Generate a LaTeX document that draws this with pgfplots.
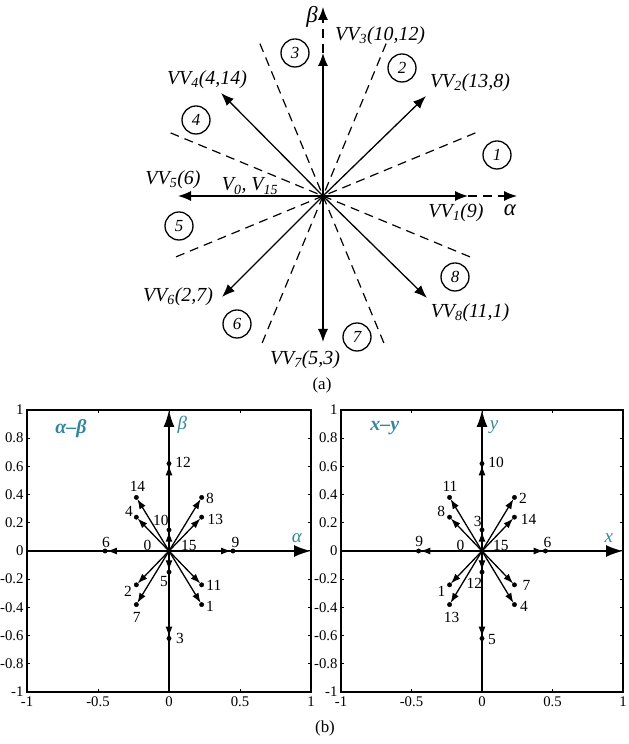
\documentclass[border=0pt]{standalone}
\usepackage{pgfplots}
\pgfplotsset{compat=1.18}
\usetikzlibrary{arrows.meta}
\usepackage{fontspec}
\setmainfont{Liberation Serif}
\definecolor{tealc}{RGB}{50,135,155}
\tikzset{
  vvarrow/.style={black, line width=1.3bp, -{Latex[length=13bp,width=10bp]}},
  dashl/.style={black, line width=1.2bp, dash pattern=on 9bp off 6bp},
  biglab/.style={font=\fontsize{20}{22}\selectfont\itshape, inner sep=0pt},
  circlab/.style={font=\fontsize{17}{18}\selectfont\itshape, inner sep=0pt},
  vec/.style={black, line width=1.3bp, -{Latex[length=10bp,width=7bp]}, shorten >=1.8bp},
  numlab/.style={font=\fontsize{15.5}{16}\selectfont, inner sep=0pt},
}
\pgfplotsset{
  panel/.style={
    anchor=south west, scale only axis, height=282bp,
    xmin=-1, xmax=1, ymin=-1, ymax=1, clip=false,
    xtick={-1,-0.5,0,0.5,1},
    ytick={-1,-0.8,-0.6,-0.4,-0.2,0,0.2,0.4,0.6,0.8,1},
    tick align=inside, major tick length=3bp,
    axis line style={line width=1.6bp},
    every tick/.style={black, line width=1bp},
    tick label style={font=\fontsize{14.8}{15}\selectfont},
    /pgf/number format/assume math mode=true,
    xticklabel style={yshift=-1bp},
  },
}
\newcommand{\drawvectors}{%
  \addplot[black, line width=1.8bp, -{Latex[length=17bp,width=12bp]}] coordinates {(-1,0) (1,0)};
  \addplot[black, line width=1.8bp, -{Latex[length=17bp,width=11bp]}] coordinates {(0,-1) (0,1)};
  \addplot[vec] coordinates {(0,0) (0,0.62)};
  \addplot[vec] coordinates {(0,0) (0,-0.62)};
  \addplot[vec] coordinates {(0,0) (0,0.15)};
  \addplot[vec] coordinates {(0,0) (0,-0.15)};
  \addplot[vec] coordinates {(0,0) (0.45,0)};
  \addplot[vec] coordinates {(0,0) (-0.45,0)};
  \addplot[vec] coordinates {(0,0) (0.23,0.38)};
  \addplot[vec] coordinates {(0,0) (0.23,0.24)};
  \addplot[vec] coordinates {(0,0) (-0.23,0.38)};
  \addplot[vec] coordinates {(0,0) (-0.23,0.24)};
  \addplot[vec] coordinates {(0,0) (-0.23,-0.24)};
  \addplot[vec] coordinates {(0,0) (-0.23,-0.38)};
  \addplot[vec] coordinates {(0,0) (0.23,-0.24)};
  \addplot[vec] coordinates {(0,0) (0.23,-0.38)};
  \addplot[only marks, mark=*, mark size=2.2bp, black] coordinates {
    (0,0.62) (0,-0.62) (0,0.15) (0,-0.15) (0.45,0) (-0.45,0)
    (0.23,0.38) (0.23,0.24) (-0.23,0.38) (-0.23,0.24)
    (-0.23,-0.24) (-0.23,-0.38) (0.23,-0.24) (0.23,-0.38)};
}
\begin{document}
\begin{tikzpicture}
\useasboundingbox (0bp,0bp) rectangle (629bp,744bp);
% ---------------- (a) ----------------
\begin{axis}[at={(0bp,352bp)}, anchor=south west, x=1bp, y=1bp,
  xmin=-323, xmax=306, ymin=-196, ymax=196, hide axis, clip=false]
\addplot[dashl] coordinates {(152.4,63.1) (-152.4,-63.1)};
\addplot[dashl] coordinates {(63.1,152.4) (-63.1,-152.4)};
\addplot[dashl] coordinates {(-63.1,152.4) (63.1,-152.4)};
\addplot[dashl] coordinates {(-152.4,63.1) (152.4,-63.1)};
\addplot[dashl, -{Latex[length=13bp,width=10bp]}] coordinates {(145,0) (194,0)};
\addplot[dashl, -{Latex[length=13bp,width=10bp]}] coordinates {(0,143) (0,189)};
\addplot[vvarrow] coordinates {(0,0) (145,0)};
\addplot[vvarrow] coordinates {(0,0) (103,100)};
\addplot[vvarrow] coordinates {(0,0) (0,143)};
\addplot[vvarrow] coordinates {(0,0) (-102,103)};
\addplot[vvarrow] coordinates {(0,0) (-145,0)};
\addplot[vvarrow] coordinates {(0,0) (-101,-101)};
\addplot[vvarrow] coordinates {(0,0) (0,-146)};
\addplot[vvarrow] coordinates {(0,0) (104,-102)};
\addplot[only marks, mark=o, mark size=14bp, mark options={line width=1.3bp}, black] coordinates {
  (174,41) (79,128) (-28,143) (-127,76) (-144,-30) (-86,-128) (34,-141) (132,-81)};
\node[circlab] at (axis cs:174,41) {1};
\node[circlab] at (axis cs:79,128) {2};
\node[circlab] at (axis cs:-28,143) {3};
\node[circlab] at (axis cs:-127,76) {4};
\node[circlab] at (axis cs:-144,-30) {5};
\node[circlab] at (axis cs:-86,-128) {6};
\node[circlab] at (axis cs:34,-141) {7};
\node[circlab] at (axis cs:132,-81) {8};
\node[biglab] at (axis cs:133,-17) {VV\textsubscript{1}(9)};
\node[biglab] at (axis cs:147,113) {VV\textsubscript{2}(13,8)};
\node[biglab, anchor=west] at (axis cs:12,160) {VV\textsubscript{3}(10,12)};
\node[biglab] at (axis cs:-116,116) {VV\textsubscript{4}(4,14)};
\node[biglab] at (axis cs:-150,16) {VV\textsubscript{5}(6)};
\node[biglab] at (axis cs:-73,10) {V\textsubscript{0}, V\textsubscript{15}};
\node[biglab] at (axis cs:-145,-101) {VV\textsubscript{6}(2,7)};
\node[biglab] at (axis cs:-18,-164) {VV\textsubscript{7}(5,3)};
\node[biglab] at (axis cs:147,-117) {VV\textsubscript{8}(11,1)};
\node[font=\fontsize{23}{24}\selectfont\itshape, inner sep=0pt] at (axis cs:187,-14) {α};
\node[font=\fontsize{23}{24}\selectfont\itshape, inner sep=0pt] at (axis cs:-11,179) {β};
\node[font=\fontsize{17}{18}\selectfont, inner sep=0pt] at (axis cs:-1,-189) {(a)};
\end{axis}
% ---------------- (b) left ----------------
\begin{axis}[panel, at={(27bp,52bp)}, width=284bp]
\drawvectors
\node[font=\fontsize{20}{22}\selectfont\bfseries\itshape, text=tealc, inner sep=0pt] at (axis cs:-0.69,0.87) {α–β};
\node[font=\fontsize{19}{20}\selectfont\itshape, text=tealc, inner sep=0pt] at (axis cs:0.9,0.092) {α};
\node[font=\fontsize{19}{20}\selectfont\itshape, text=tealc, inner sep=0pt] at (axis cs:0.094,0.893) {β};
\node[numlab] at (axis cs:0.1,0.625) {12};
\node[numlab] at (axis cs:-0.222,0.455) {14};
\node[numlab] at (axis cs:-0.281,0.282) {4};
\node[numlab] at (axis cs:-0.058,0.218) {10};
\node[numlab] at (axis cs:0.288,0.372) {8};
\node[numlab] at (axis cs:0.327,0.225) {13};
\node[numlab] at (axis cs:-0.444,0.064) {6};
\node[numlab] at (axis cs:-0.152,0.036) {0};
\node[numlab] at (axis cs:0.14,0.036) {15};
\node[numlab] at (axis cs:0.468,0.064) {9};
\node[numlab] at (axis cs:-0.288,-0.289) {2};
\node[numlab] at (axis cs:-0.035,-0.218) {5};
\node[numlab] at (axis cs:0.316,-0.242) {11};
\node[numlab] at (axis cs:0.288,-0.391) {1};
\node[numlab] at (axis cs:-0.227,-0.472) {7};
\node[numlab] at (axis cs:0.077,-0.623) {3};
\end{axis}
% ---------------- (b) right ----------------
\begin{axis}[panel, at={(341bp,52bp)}, width=282bp]
\drawvectors
\node[font=\fontsize{20}{22}\selectfont\bfseries\itshape, text=tealc, inner sep=0pt] at (axis cs:-0.69,0.87) {x–y};
\node[font=\fontsize{19}{20}\selectfont\itshape, text=tealc, inner sep=0pt] at (axis cs:0.9,0.09) {x};
\node[font=\fontsize{19}{20}\selectfont\itshape, text=tealc, inner sep=0pt] at (axis cs:0.085,0.88) {y};
\node[numlab] at (axis cs:0.1,0.625) {10};
\node[numlab] at (axis cs:-0.227,0.455) {11};
\node[numlab] at (axis cs:-0.29,0.28) {8};
\node[numlab] at (axis cs:-0.03,0.21) {3};
\node[numlab] at (axis cs:0.29,0.37) {2};
\node[numlab] at (axis cs:0.33,0.225) {14};
\node[numlab] at (axis cs:-0.445,0.069) {9};
\node[numlab] at (axis cs:-0.152,0.036) {0};
\node[numlab] at (axis cs:0.134,0.036) {15};
\node[numlab] at (axis cs:0.464,0.064) {6};
\node[numlab] at (axis cs:-0.288,-0.289) {1};
\node[numlab] at (axis cs:-0.054,-0.23) {12};
\node[numlab] at (axis cs:0.316,-0.242) {7};
\node[numlab] at (axis cs:-0.216,-0.472) {13};
\node[numlab] at (axis cs:0.298,-0.391) {4};
\node[numlab] at (axis cs:0.07,-0.628) {5};
\end{axis}
\node[font=\fontsize{17}{18}\selectfont, inner sep=0pt] at (325bp,16bp) {(b)};
\end{tikzpicture}
\end{document}
